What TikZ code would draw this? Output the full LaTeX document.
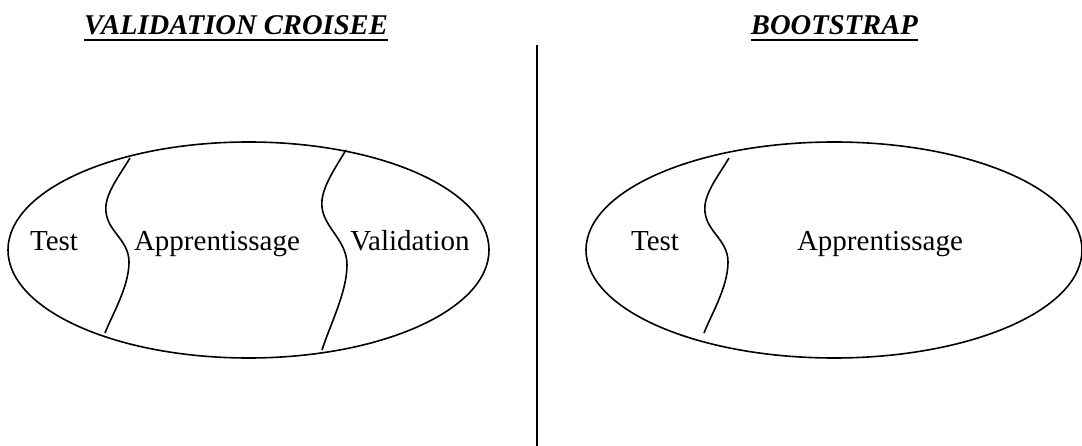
\documentclass[tikz,border=0pt]{standalone}
\usepackage{fontspec}
\setmainfont{Liberation Serif}
\begin{document}
\begin{tikzpicture}[x=1pt,y=-1pt,
  outline/.style={line width=1.6pt, black},
  label/.style={font=\fontsize{29}{32}\selectfont, inner sep=0pt, anchor=base},
  heading/.style={font=\fontsize{28.6}{32}\selectfont\bfseries\itshape, inner sep=0pt, anchor=base}]
\useasboundingbox (0,0) rectangle (1082,446);

% headings with their underlines
\node[heading] (hcv) at (236,35) {VALIDATION CROISEE};
\node[heading, anchor=base east] (hbs) at (918,35) {BOOTSTRAP};
\draw[line width=2.2pt] ([yshift=-5pt]hcv.base west) -- ([yshift=-5pt]hcv.base east);
\draw[line width=2.2pt] ([yshift=-5pt]hbs.base west) -- ([yshift=-5pt]hbs.base east);

% separator
\coordinate (septop) at (537,45);
\coordinate (sepbot) at (537,446);
\draw[line width=2pt] (septop) -- (sepbot);

% cross-validation: data set split in three parts
\draw[outline] (248.5,250) ellipse [x radius=240.5pt, y radius=108pt];
\draw[outline] (130,158) .. controls (118,178) and (104,195) .. (106,212)
  .. controls (108,232) and (129,240) .. (129,262)
  .. controls (129,287) and (112,315) .. (105,333);
\draw[outline] (346,150) .. controls (334,170) and (320,190) .. (322,207)
  .. controls (324,228) and (347,240) .. (347,265)
  .. controls (347,292) and (330,325) .. (322,350);
\node[label] (cvtest) at (54,251) {Test};
\node[label] (cvapp) at (217,251) {Apprentissage};
\node[label] (cvval) at (410,251) {Validation};

% bootstrap: data set split in two parts
\draw[outline] (834,250) ellipse [x radius=248pt, y radius=108pt];
\draw[outline] (729,158) .. controls (717,178) and (703,195) .. (705,212)
  .. controls (707,232) and (728,240) .. (728,262)
  .. controls (728,287) and (711,315) .. (704,333);
\node[label] (bstest) at (655,251) {Test};
\node[label] (bsapp) at (880,251) {Apprentissage};
\end{tikzpicture}
\end{document}
